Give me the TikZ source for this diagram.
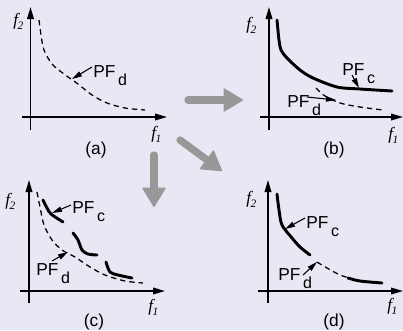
\documentclass[tikz,border=0pt]{standalone}
\usepackage{fontspec}
\setmainfont{Liberation Sans}
\newfontfamily\tfont{Liberation Serif}
\usetikzlibrary{arrows.meta}
\definecolor{bg}{RGB}{231,232,244}
\definecolor{garrow}{RGB}{152,152,152}
\newcommand{\fl}[1]{{\tfont\itshape\fontsize{13}{13}\selectfont f\kern-0.3pt\raisebox{-3.5pt}{\fontsize{8.5}{8.5}\selectfont #1}}}
\newcommand{\pf}[1]{{\fontsize{13}{13}\selectfont PF\hspace{2pt}\raisebox{-6.5pt}{\fontsize{12}{12}\selectfont #1}}}
\begin{document}
\begin{tikzpicture}[x=0.75pt,y=-0.75pt,
  axis/.style={line width=1.1pt,-{Triangle[length=9pt,width=5pt]}},
  frontd/.style={line width=0.95pt,dash pattern=on 4pt off 3pt},
  frontc/.style={line width=2.2pt,line cap=round,line join=round},
  ann/.style={line width=0.8pt,-{Triangle[length=7.5pt,width=4pt]}},
  bigarrow/.style={garrow,line width=5.5pt,line cap=round,-{Triangle[length=15pt,width=18pt,round,line width=1pt]}},
  lab/.style={inner sep=0,anchor=base west},
  capt/.style={inner sep=0,font=\fontsize{13}{13}\selectfont}]
\fill[bg] (0,0) rectangle (403,330);
\useasboundingbox (0,0) rectangle (403,330);

% ---------- panel (a)
\draw[axis] (30.5,130) -- (30.5,7);
\draw[axis] (22,117) -- (167,117);
\node[lab] (fa2) at (13,25) {\fl{2}};
\node[lab] (fa1) at (151,138) {\fl{1}};
\node[capt] (capa) at (96,150) {(a)};
\draw[frontd] plot[smooth] coordinates {(39,20) (41,35) (44,50) (52,64) (64,74) (78,84) (92,95) (107,103) (125,108) (145,110)};
\node[lab] (pfa) at (93,77) {\pf{d}};
\coordinate (pfas) at (92,67);
\coordinate (pfae) at (72,79);
\draw[ann] (pfas) -- (pfae);

% ---------- panel (b)
\draw[axis] (269,130) -- (269,7);
\draw[axis] (260,117) -- (403,117);
\node[lab] (fb2) at (246,29) {\fl{2}};
\node[lab] (fb1) at (388,139) {\fl{1}};
\node[capt] (capb) at (334,150) {(b)};
\draw[frontc] plot[smooth] coordinates {(277,20) (279,40) (281,50) (287,58) (300,70) (313,78) (337,87) (360,89) (392,91)};
\draw[frontd] plot[smooth] coordinates {(316,88) (325,96) (340,103) (360,107) (383,110)};
\node[lab] (pfbc) at (342,75) {\pf{c}};
\coordinate (pfbcs) at (352,75);
\coordinate (pfbce) at (359,88);
\draw[ann] (pfbcs) -- (pfbce);
\node[lab] (pfbd) at (287,107) {\pf{d}};
\coordinate (pfbds) at (307,97);
\coordinate (pfbde) at (336,100);
\draw[ann] (pfbds) -- (pfbde);

% ---------- panel (c)
\draw[axis] (29,303) -- (29,180);
\draw[axis] (20,291) -- (165,291);
\node[lab] (fc2) at (5,205) {\fl{2}};
\node[lab] (fc1) at (148,311) {\fl{1}};
\node[capt] (capc) at (94,322) {(c)};
\draw[frontd] plot[smooth] coordinates {(37,192) (40,207) (44,225) (52,240) (62,250) (75,257) (90,267) (105,275) (125,281) (143,283)};
\draw[frontc] plot[smooth] coordinates {(43,200) (47,208) (51,214) (63,222)};
\draw[frontc] plot[smooth] coordinates {(73,233) (78,240) (82,250) (88,254) (97,255)};
\draw[frontc] plot[smooth] coordinates {(106,262) (110,272) (118,275) (132,278)};
\node[lab] (pfcc) at (72,213) {\pf{c}};
\coordinate (pfccs) at (71,205);
\coordinate (pfcce) at (52,213);
\draw[ann] (pfccs) -- (pfcce);
\node[lab] (pfcd) at (36,275) {\pf{d}};
\coordinate (pfcds) at (52,261);
\coordinate (pfcde) at (68,252);
\draw[ann] (pfcds) -- (pfcde);

% ---------- panel (d)
\draw[axis] (268,303) -- (268,180);
\draw[axis] (258,291) -- (403,291);
\node[lab] (fd2) at (246,203) {\fl{2}};
\node[lab] (fd1) at (387,310) {\fl{1}};
\node[capt] (capd) at (334,322) {(d)};
\draw[frontc] plot[smooth] coordinates {(277,194) (279,210) (282,225) (292,238) (300,247) (310,255)};
\draw[frontd] plot[smooth] coordinates {(317,262) (327,268) (340,275) (350,278)};
\draw[frontc] plot[smooth] coordinates {(348,278) (360,281) (382,283)};
\node[lab] (pfdc) at (306,228) {\pf{c}};
\coordinate (pfdcs) at (305,218);
\coordinate (pfdce) at (285,229);
\draw[ann] (pfdcs) -- (pfdce);
\node[lab] (pfdd) at (278,280) {\pf{d}};
\coordinate (pfdds) at (303,275);
\coordinate (pfdde) at (317,262);
\draw[ann] (pfdds) -- (pfdde);

% ---------- big grey arrows
\coordinate (g1s) at (188,100);
\coordinate (g1e) at (243,100);
\coordinate (g2s) at (180,140);
\coordinate (g2e) at (222,171);
\coordinate (g3s) at (154,155);
\coordinate (g3e) at (154,207);
\draw[bigarrow] (g1s) -- (g1e);
\draw[bigarrow] (g2s) -- (g2e);
\draw[bigarrow] (g3s) -- (g3e);
\end{tikzpicture}
\end{document}
